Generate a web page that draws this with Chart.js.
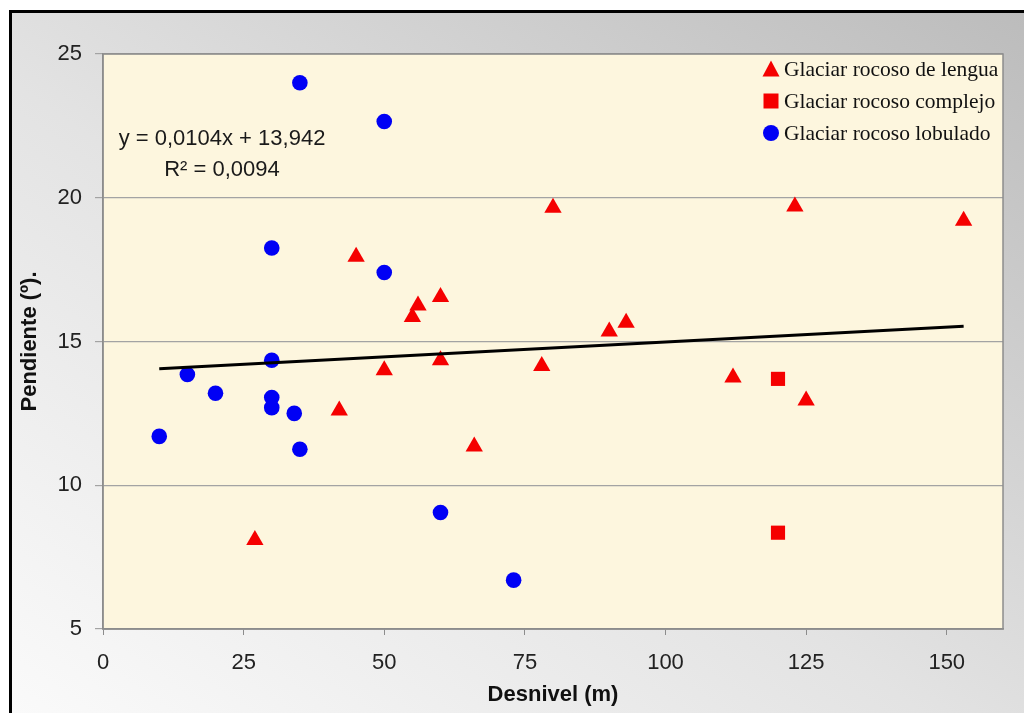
<!DOCTYPE html>
<html>
<head>
<meta charset="utf-8">
<script src="https://cdn.jsdelivr.net/npm/chart.js@4.4.0/dist/chart.umd.min.js"></script>
<style>
    html, body { margin: 0; padding: 0; background: #fff; }
    #wrap { position: relative; width: 1024px; height: 713px; overflow: hidden; }
    #frame {
        position: absolute; left: 9px; top: 10px; width: 1015px; height: 703px;
        box-sizing: border-box; border-top: 3px solid #000; border-left: 3px solid #000;
        background: linear-gradient(to top right, #fafafa 0%, #e3e3e3 45%, #bcbcbc 100%);
    }
    #chart { position: absolute; left: 0; top: 0; }
</style>
</head>
<body>
<div id="wrap">
    <div id="frame"></div>
    <canvas id="chart" width="1024" height="713"></canvas>
</div>
<script>
// Values
const xTicks = [0, 25, 50, 75, 100, 125, 150];
const yTicks = [5, 10, 15, 20, 25];

const lenguaX = [45, 55, 56, 60, 50, 60, 42, 66, 27, 80, 123, 153, 90, 93, 78, 112, 125];
const lenguaY = [17.95, 15.85, 16.25, 16.55, 14.0, 14.35, 12.6, 11.35, 8.1, 19.65, 19.7, 19.2, 15.35, 15.65, 14.15, 13.75, 12.95];

const complejoX = [120, 120];
const complejoY = [13.7, 8.35];

const lobuladoX = [35, 50, 30, 50, 30, 15, 20, 30, 30, 34, 10, 35, 60, 73];
const lobuladoY = [24.0, 22.65, 18.25, 17.4, 14.35, 13.85, 13.2, 13.05, 12.7, 12.5, 11.7, 11.25, 9.05, 6.7];

// linear trend line end points (y = 0,0104x + 13,942)
const trendX = [10, 153];
const trendY = [14.05, 15.53];

const legendNames = ['Glaciar rocoso de lengua', 'Glaciar rocoso complejo', 'Glaciar rocoso lobulado'];

const zip = (xs, ys) => xs.map((x, i) => ({ x: x, y: ys[i] }));

const RED = '#f50000';
const BLUE = '#0000f5';

// plot background, border, equation and in-plot legend
const plotExtras = {
    id: 'plotExtras',
    beforeDraw(chart) {
        const { ctx, chartArea: a } = chart;
        ctx.save();
        ctx.fillStyle = '#fdf6de';
        ctx.fillRect(a.left, a.top, a.right - a.left, a.bottom - a.top);
        ctx.restore();
    },
    afterDraw(chart) {
        const { ctx, chartArea: a } = chart;
        ctx.save();
        ctx.strokeStyle = '#8c8c8c';
        ctx.lineWidth = 1.5;
        ctx.strokeRect(a.left, a.top, a.right - a.left, a.bottom - a.top);

        // regression label
        ctx.fillStyle = '#1a1a1a';
        ctx.font = '22px "Liberation Sans", Arial, sans-serif';
        ctx.textAlign = 'center';
        ctx.textBaseline = 'middle';
        ctx.fillText('y = 0,0104x + 13,942', a.left + 119, a.top + 85);
        ctx.fillText('R² = 0,0094', a.left + 119, a.top + 116);

        // legend
        ctx.font = '21.5px "Liberation Serif", "Times New Roman", serif';
        ctx.textAlign = 'left';
        const styles = ['triangle', 'rect', 'circle'];
        const colors = [RED, RED, BLUE];
        legendNames.forEach((name, i) => {
            const mx = a.right - 232;
            const my = a.top + 15 + i * 32;
            ctx.fillStyle = colors[i];
            ctx.beginPath();
            if (styles[i] === 'triangle') {
                ctx.moveTo(mx, my - 8.5);
                ctx.lineTo(mx + 8.5, my + 7.5);
                ctx.lineTo(mx - 8.5, my + 7.5);
                ctx.closePath();
            } else if (styles[i] === 'rect') {
                ctx.rect(mx - 7.5, my - 7.5, 15, 15);
            } else {
                ctx.arc(mx, my, 8, 0, Math.PI * 2);
            }
            ctx.fill();
            ctx.fillStyle = '#111';
            ctx.fillText(name, a.right - 219, my + 1);
        });
        ctx.restore();
    }
};

const tickFont = { family: '"Liberation Sans", Arial, sans-serif', size: 22 };
const titleFont = { family: '"Liberation Sans", Arial, sans-serif', size: 22, weight: 'bold' };

new Chart(document.getElementById('chart').getContext('2d'), {
    type: 'scatter',
    data: {
        datasets: [
            {
                label: 'Tendencia',
                data: zip(trendX, trendY),
                showLine: true,
                borderColor: '#000',
                borderWidth: 3,
                pointRadius: 0,
                order: 0
            },
            {
                label: legendNames[0],
                data: zip(lenguaX, lenguaY),
                pointStyle: 'triangle',
                pointRadius: 10,
                pointBackgroundColor: RED,
                pointBorderWidth: 0,
                order: 1
            },
            {
                label: legendNames[1],
                data: zip(complejoX, complejoY),
                pointStyle: 'rect',
                pointRadius: 10,
                pointBackgroundColor: RED,
                pointBorderWidth: 0,
                order: 1
            },
            {
                label: legendNames[2],
                data: zip(lobuladoX, lobuladoY),
                pointStyle: 'circle',
                pointRadius: 7.8,
                pointBackgroundColor: BLUE,
                pointBorderWidth: 0,
                order: 1
            }
        ]
    },
    options: {
        responsive: false,
        animation: false,
        layout: { padding: { left: 12, top: 54, right: 21, bottom: 0 } },
        plugins: {
            legend: { display: false },
            tooltip: { enabled: false }
        },
        scales: {
            x: {
                type: 'linear',
                min: 0,
                max: 160,
                afterBuildTicks: (axis) => { axis.ticks = xTicks.map(v => ({ value: v })); },
                afterFit: (axis) => { axis.height = 84; },
                ticks: { font: tickFont, color: '#222', padding: 15, maxRotation: 0 },
                grid: { drawOnChartArea: false, tickLength: 6, color: '#8c8c8c' },
                border: { color: '#8c8c8c', width: 1.5 },
                title: { display: true, text: 'Desnivel (m)', font: titleFont, color: '#111', padding: { top: 0, bottom: 5 } }
            },
            y: {
                type: 'linear',
                min: 5,
                max: 25,
                afterBuildTicks: (axis) => { axis.ticks = yTicks.map(v => ({ value: v })); },
                afterFit: (axis) => { axis.width = 91; },
                ticks: { font: tickFont, color: '#222', padding: 13 },
                grid: { color: '#a3a3a3', tickLength: 8, lineWidth: 1.2 },
                border: { color: '#8c8c8c', width: 1.5 },
                title: { display: true, text: 'Pendiente (º).', font: titleFont, color: '#111', padding: { top: 5, bottom: 0 } }
            }
        }
    },
    plugins: [plotExtras]
});
</script>
</body>
</html>
